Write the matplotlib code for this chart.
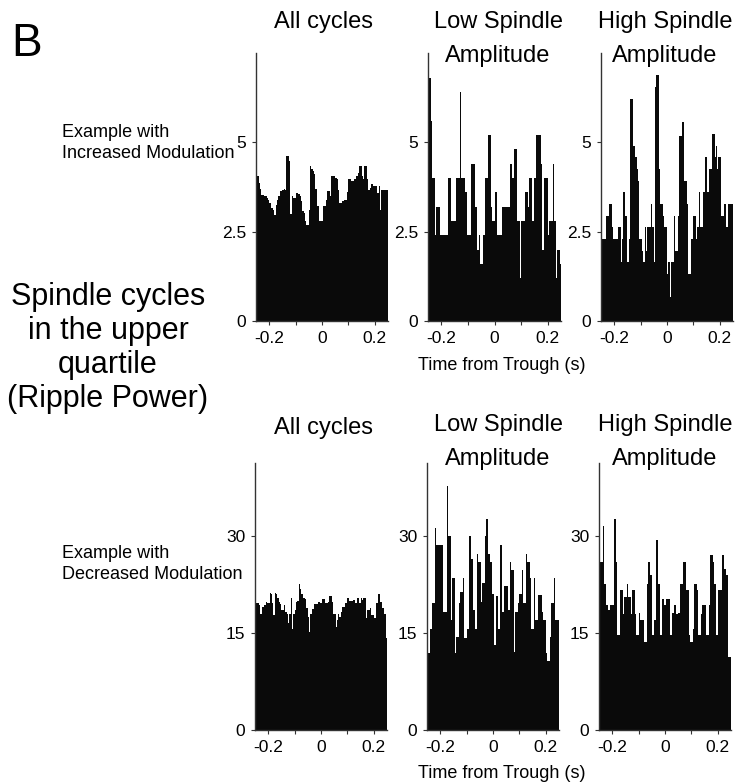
import numpy as np
import matplotlib.pyplot as plt

plt.rcParams['font.family'] = ['Liberation Sans', 'DejaVu Sans']

# 100 bins of 5 ms from -0.25 s to 0.25 s
bin_width = 0.005
t_centers = np.linspace(-0.2475, 0.2475, 100)

# --- example with increased modulation (top row) ---
inc_all = [
    4.05, 4.05, 3.87, 3.70, 3.54, 3.54, 3.49, 3.49, 3.45, 3.40,
    3.31, 3.16, 3.16, 3.12, 2.98, 3.26, 3.40, 3.50, 3.63, 3.63,
    3.68, 3.70, 3.68, 4.62, 4.62, 4.48, 3.00, 3.49, 3.45, 3.45,
    3.59, 3.59, 3.55, 3.49, 3.35, 3.07, 3.02, 2.79, 2.70, 2.70,
    3.10, 4.34, 4.25, 4.20, 4.10, 3.70, 3.21, 3.21, 2.79, 2.79,
    2.79, 3.21, 3.21, 3.40, 3.63, 3.63, 3.49, 4.05, 4.05, 4.05,
    4.00, 3.96, 3.68, 3.31, 3.31, 3.35, 3.35, 3.40, 3.40, 3.60,
    3.96, 3.96, 3.92, 3.92, 3.96, 3.96, 4.05, 4.15, 4.34, 4.34,
    4.05, 3.96, 4.34, 4.34, 3.96, 3.68, 3.73, 3.82, 3.82, 3.77,
    3.77, 3.77, 3.59, 3.77, 3.10, 3.68, 3.68, 3.68, 3.68, 3.68,
]
inc_low = [
    7.6, 6.8, 5.6, 4.0, 4.0, 2.4, 3.2, 3.2, 3.2, 2.4,
    2.4, 2.4, 2.4, 2.4, 2.4, 4.0, 4.0, 2.8, 2.8, 2.8,
    2.8, 4.0, 4.0, 4.0, 6.4, 4.0, 4.0, 4.0, 3.6, 2.4,
    2.4, 2.4, 4.4, 4.4, 4.4, 3.2, 3.2, 2.0, 2.4, 1.6,
    1.6, 2.4, 2.4, 4.0, 4.0, 5.2, 5.2, 3.2, 2.8, 2.8,
    3.6, 3.6, 2.4, 2.4, 2.4, 2.4, 3.2, 3.2, 3.2, 3.2,
    3.2, 3.2, 4.4, 4.0, 4.0, 4.8, 4.8, 2.8, 2.8, 1.2,
    2.8, 2.8, 2.8, 3.6, 3.6, 3.2, 4.0, 4.0, 2.8, 2.8,
    4.0, 5.2, 5.2, 5.2, 5.2, 4.4, 2.0, 4.0, 4.0, 4.0,
    2.4, 2.8, 2.8, 2.8, 4.4, 2.8, 1.2, 2.0, 2.0, 1.6,
]
inc_high = [
    2.30, 2.30, 2.30, 2.30, 2.94, 2.94, 3.28, 3.28, 2.63, 2.30,
    2.30, 2.30, 2.30, 2.63, 2.63, 1.64, 2.30, 3.60, 2.94, 2.94,
    1.64, 2.30, 6.22, 6.22, 4.90, 4.90, 4.58, 4.25, 3.92, 2.30,
    2.30, 1.97, 1.64, 2.63, 1.97, 2.63, 2.63, 2.63, 3.28, 2.63,
    1.64, 6.55, 6.88, 6.88, 4.25, 3.28, 3.28, 2.94, 2.63, 2.63,
    1.31, 1.64, 0.66, 1.64, 1.64, 2.94, 1.97, 1.97, 2.94, 5.19,
    5.19, 5.56, 5.56, 3.92, 3.92, 3.28, 1.31, 1.31, 2.30, 2.30,
    2.94, 2.94, 2.30, 2.63, 3.60, 2.63, 2.63, 3.60, 3.60, 4.58,
    3.60, 3.60, 4.25, 4.25, 5.23, 5.23, 4.58, 4.90, 4.25, 4.58,
    4.58, 2.94, 2.94, 3.28, 3.28, 2.63, 3.28, 3.28, 3.28, 3.28,
]

# --- example with decreased modulation (bottom row) ---
dec_all = [
    18.0, 19.6, 19.6, 19.4, 18.0, 19.1, 19.1, 19.3, 19.8, 19.6,
    19.6, 21.2, 21.0, 19.6, 17.8, 21.2, 21.0, 20.4, 19.8, 19.5,
    18.6, 18.6, 19.3, 18.3, 18.0, 16.5, 18.0, 20.4, 15.7, 18.0,
    18.6, 19.8, 20.0, 22.6, 21.8, 21.0, 20.4, 20.4, 20.2, 18.8,
    17.5, 15.2, 18.0, 18.7, 18.7, 19.5, 19.5, 19.5, 19.8, 19.6,
    19.6, 20.2, 20.2, 19.6, 19.6, 19.8, 20.8, 20.8, 19.8, 18.0,
    18.0, 16.0, 17.0, 18.0, 17.5, 18.3, 19.1, 19.1, 19.6, 19.6,
    20.4, 20.0, 20.0, 20.0, 20.1, 20.1, 19.7, 20.4, 20.4, 19.6,
    20.4, 20.1, 20.4, 20.4, 17.3, 18.6, 18.6, 18.8, 17.8, 17.8,
    17.3, 17.3, 19.6, 21.0, 21.0, 19.8, 18.8, 18.8, 18.0, 14.2,
]
dec_low = [
    19.6, 11.9, 15.6, 15.6, 19.6, 19.6, 31.3, 28.6, 28.6, 28.6,
    28.6, 28.6, 18.3, 18.3, 18.3, 37.7, 30.0, 30.0, 17.0, 23.5,
    23.5, 11.9, 14.4, 14.4, 19.6, 21.4, 21.4, 23.5, 14.2, 14.2,
    15.7, 15.7, 30.0, 26.5, 26.5, 18.6, 15.7, 15.7, 27.3, 26.0,
    26.0, 19.8, 22.7, 22.7, 30.0, 32.6, 27.3, 27.3, 26.0, 21.1,
    21.1, 13.1, 20.7, 20.7, 15.7, 28.6, 28.6, 18.3, 22.2, 22.2,
    22.2, 18.6, 18.6, 26.0, 24.7, 24.7, 12.0, 18.3, 18.3, 19.6,
    21.1, 21.1, 24.7, 19.6, 19.6, 27.3, 26.0, 26.0, 23.5, 15.7,
    15.7, 23.5, 17.0, 17.0, 20.9, 20.9, 20.9, 18.3, 17.0, 17.0,
    11.9, 10.6, 10.6, 14.4, 19.6, 19.6, 23.5, 17.0, 17.0, 17.0,
]
dec_high = [
    20.6, 26.0, 26.0, 31.5, 22.6, 19.3, 19.3, 18.5, 19.3, 19.3,
    19.3, 32.7, 32.7, 26.0, 14.7, 14.7, 21.6, 21.6, 18.0, 20.6,
    20.6, 22.6, 20.6, 20.6, 18.0, 21.6, 21.6, 18.0, 14.7, 14.7,
    18.1, 17.0, 17.0, 17.0, 13.6, 13.6, 22.6, 26.0, 26.0, 23.9,
    14.7, 14.7, 17.0, 29.4, 29.4, 22.6, 14.7, 14.7, 20.3, 19.3,
    19.3, 20.3, 20.3, 20.3, 14.7, 18.1, 18.1, 19.3, 18.0, 18.0,
    18.1, 22.6, 22.6, 22.6, 26.0, 26.0, 21.6, 21.6, 14.7, 13.6,
    13.6, 15.7, 22.6, 22.6, 21.6, 14.7, 14.7, 18.0, 19.3, 19.3,
    19.3, 14.7, 14.7, 19.3, 27.0, 27.0, 26.0, 22.6, 22.6, 14.7,
    21.6, 21.6, 21.6, 27.0, 27.0, 24.9, 23.9, 23.9, 11.3, 11.3,
]

top_yticks = [0, 2.5, 5]
bot_yticks = [0, 15, 30]
xticks = [-0.2, -0.1, 0, 0.1, 0.2]
xticklabels = ['-0.2', '', '0', '', '0.2']

W, H = 745, 783
fig = plt.figure(figsize=(W / 100, H / 100), dpi=100)


def px_axes(x0, y0, x1, y1):
    # pixel box (from top-left) -> figure fraction axes
    return fig.add_axes([x0 / W, 1 - y1 / H, (x1 - x0) / W, (y1 - y0) / H])


def hist_panel(ax, values, ylim, yticks):
    ax.bar(t_centers, values, width=bin_width, color='#0a0a0a', linewidth=0)
    ax.set_xlim(-0.25, 0.25)
    ax.set_ylim(0, ylim)
    ax.set_xticks(xticks)
    ax.set_xticklabels(xticklabels)
    ax.set_yticks(yticks)
    ax.set_yticklabels([('%g' % v) for v in yticks])
    for s in ['top', 'right']:
        ax.spines[s].set_visible(False)
    for s in ['left', 'bottom']:
        ax.spines[s].set_color('#333333')
        ax.spines[s].set_linewidth(1.0)
    ax.tick_params(direction='out', length=3, width=0.8, color='#333333',
                   labelsize=12.5, pad=4)
    ax.set_facecolor('none')


top_boxes = [(256, 53, 388, 321), (428, 53, 561, 321), (601, 53, 733, 321)]
bot_boxes = [(255, 463, 387, 730), (427, 463, 559, 730), (599, 463, 731, 730)]

for box, vals in zip(top_boxes, [inc_all, inc_low, inc_high]):
    hist_panel(px_axes(*box), vals, 7.5, top_yticks)
for box, vals in zip(bot_boxes, [dec_all, dec_low, dec_high]):
    hist_panel(px_axes(*box), vals, 41.3, bot_yticks)


def ftext(x, y, s, **kw):
    fig.text(x / W, 1 - y / H, s, **kw)


ftext(11, 44, 'B', fontsize=33, ha='left', va='center')
ftext(62, 143, 'Example with\nIncreased Modulation', fontsize=13,
      ha='left', va='center', linespacing=1.3)
ftext(62, 564, 'Example with\nDecreased Modulation', fontsize=13,
      ha='left', va='center', linespacing=1.3)
ftext(108, 348, 'Spindle cycles\nin the upper\nquartile\n(Ripple Power)',
      fontsize=22, ha='center', va='center', multialignment='center',
      linespacing=1.16)

for y_one, y_two in [(22, 39), (428, 442)]:
    ftext(323, y_one, 'All cycles', fontsize=17, ha='center', va='center')
    ftext(498, y_two, 'Low Spindle\nAmplitude', fontsize=17, ha='center',
          va='center', linespacing=1.65)
    ftext(665, y_two, 'High Spindle\nAmplitude', fontsize=17, ha='center',
          va='center', linespacing=1.65)

ftext(502, 365, 'Time from Trough (s)', fontsize=13, ha='center', va='center')
ftext(502, 773, 'Time from Trough (s)', fontsize=13, ha='center', va='center')

fig.savefig('out.png', dpi=100, facecolor='white')
